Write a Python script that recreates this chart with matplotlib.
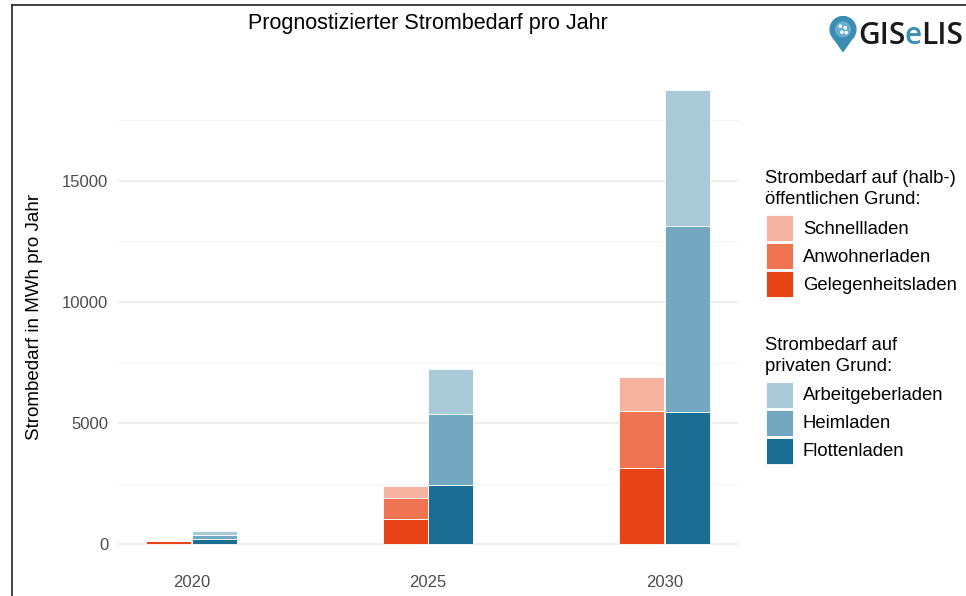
#Prognostizierter Strombedarf pro Jahr - gestapelte Balken
import numpy as np
import matplotlib
matplotlib.use("Agg")
import matplotlib.pyplot as plt
from matplotlib.patches import Rectangle, Circle, Polygon
from matplotlib.lines import Line2D

plt.rcParams['font.family'] = ['Liberation Sans', 'DejaVu Sans']

#Daten (MWh pro Jahr)
jahre = ['2020', '2025', '2030']
gelegenheitsladen = [130, 1060, 3150]
anwohnerladen = [25, 850, 2360]
schnellladen = [15, 490, 1400]
flottenladen = [200, 2440, 5440]
heimladen = [200, 2920, 7700]
arbeitgeberladen = [130, 1860, 5620]

#Farben
c_schnell = '#F5B3A0'
c_anwohner = '#EE7452'
c_gelegenheit = '#E84418'
c_arbeit = '#A9C9D6'
c_heim = '#73A8C0'
c_flotten = '#1C6D94'

W, H = 966, 596
fig = plt.figure(figsize=(W / 100, H / 100), dpi=100)
ax = fig.add_axes([118 / W, 1 - 567 / H, (738 - 118) / W, (567 - 67) / H])

x = np.arange(len(jahre))
bw = 0.19
off = 0.097

#Öffentlicher Grund (orange)
b1 = np.array(gelegenheitsladen)
b2 = b1 + np.array(anwohnerladen)
ax.bar(x - off, gelegenheitsladen, bw, color=c_gelegenheit, edgecolor='white', linewidth=0.6, zorder=3)
ax.bar(x - off, anwohnerladen, bw, bottom=b1, color=c_anwohner, edgecolor='white', linewidth=0.6, zorder=3)
ax.bar(x - off, schnellladen, bw, bottom=b2, color=c_schnell, edgecolor='white', linewidth=0.6, zorder=3)

#Privater Grund (blau)
p1 = np.array(flottenladen)
p2 = p1 + np.array(heimladen)
ax.bar(x + off, flottenladen, bw, color=c_flotten, edgecolor='white', linewidth=0.6, zorder=3)
ax.bar(x + off, heimladen, bw, bottom=p1, color=c_heim, edgecolor='white', linewidth=0.6, zorder=3)
ax.bar(x + off, arbeitgeberladen, bw, bottom=p2, color=c_arbeit, edgecolor='white', linewidth=0.6, zorder=3)

ymax = (p2 + np.array(arbeitgeberladen)).max()
ax.set_ylim(-0.05 * ymax, 1.05 * ymax)
ax.set_xlim(-0.31, 2.31)

#Gitter im Stil von theme_minimal
ax.set_yticks([0, 5000, 10000, 15000])
ax.set_yticks([2500, 7500, 12500, 17500], minor=True)
ax.grid(axis='y', which='major', color='#EBEBEB', linewidth=1.1, zorder=0)
ax.grid(axis='y', which='minor', color='#F3F3F3', linewidth=0.6, zorder=0)
ax.set_xticks(x)
ax.set_xticklabels(jahre)
for s in ax.spines.values():
    s.set_visible(False)
ax.tick_params(axis='both', which='both', length=0, labelsize=12, colors='#4D4D4D', pad=7)
ax.tick_params(axis='x', pad=6)
ax.set_ylabel('Strombedarf in MWh pro Jahr', fontsize=13.5, color='black', labelpad=14)

fig.text(428 / W, 1 - 24 / H, 'Prognostizierter Strombedarf pro Jahr', ha='center', va='center', fontsize=15.5)

#Legenden
def legende(y_titel, titel, eintraege):
    fig.text(765 / W, 1 - y_titel / H, titel, ha='left', va='top', fontsize=13.3, linespacing=1.3)
    for (y0, farbe, name) in eintraege:
        fig.add_artist(Rectangle((766 / W, 1 - (y0 + 26) / H), 27 / W, 26 / H,
                                 transform=fig.transFigure, facecolor=farbe, edgecolor='white', linewidth=0.6))
        fig.text(803 / W, 1 - (y0 + 14) / H, name, ha='left', va='center', fontsize=13.3)

legende(170, 'Strombedarf auf (halb-)\nöffentlichen Grund:',
        [(215, c_schnell, 'Schnellladen'), (243, c_anwohner, 'Anwohnerladen'), (271, c_gelegenheit, 'Gelegenheitsladen')])
legende(337, 'Strombedarf auf\nprivaten Grund:',
        [(382, c_arbeit, 'Arbeitgeberladen'), (410, c_heim, 'Heimladen'), (438, c_flotten, 'Flottenladen')])

#Logo
lax = fig.add_axes([829 / W, 1 - 52 / H, 28 / W, 36 / H])
lax.set_xlim(-1.3, 1.3)
lax.set_ylim(-2.1, 1.25)
lax.set_aspect('equal')
lax.axis('off')
pin = '#3C8DB4'
lax.add_patch(Circle((0, 0), 1.2, color=pin))
lax.add_patch(Polygon([[-0.95, -0.7], [0.95, -0.7], [0, -2.05]], color=pin))
lax.add_patch(Circle((0, 0), 0.68, color='#6AAED0'))
for px, py in [(-0.25, 0.3), (0.2, 0.15), (-0.1, -0.25), (0.3, -0.3)]:
    lax.add_patch(Circle((px, py), 0.1, color='white'))

xpos = 858
fig.canvas.draw()
r = fig.canvas.get_renderer()
for teil, farbe in [('GIS', '#1A1A1A'), ('e', '#3C8DB4'), ('LIS', '#1A1A1A')]:
    t = fig.text(xpos / W, 1 - 36 / H, teil, ha='left', va='center', fontsize=21.5,
                 family=['Open Sans', 'DejaVu Sans'], weight='semibold', color=farbe)
    xpos += t.get_window_extent(r).width - 0.5

#Rahmen links und oben
fig.add_artist(Line2D([12 / W, 12 / W], [0, 1 - 5 / H], transform=fig.transFigure, color='#222222', linewidth=1.2))
fig.add_artist(Line2D([12 / W, 1], [1 - 5 / H, 1 - 5 / H], transform=fig.transFigure, color='#222222', linewidth=1.2))

fig.savefig('out.png', dpi=100)
